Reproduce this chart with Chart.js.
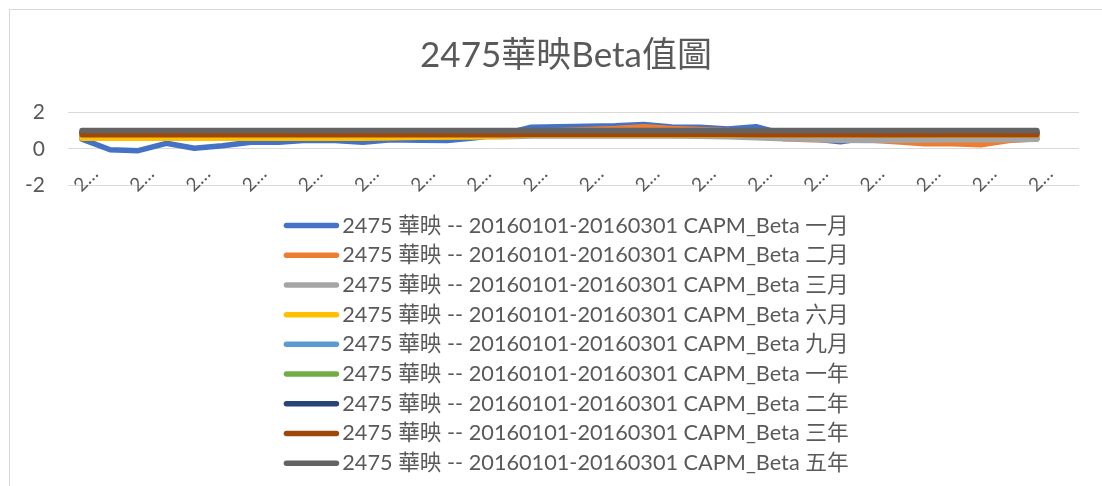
<!DOCTYPE html>
<html><head><meta charset="utf-8">
<script src="https://cdn.jsdelivr.net/npm/chart.js@4/dist/chart.umd.min.js"></script>
<style>
html,body{margin:0;padding:0;background:#fff;overflow:hidden;width:1102px;height:486px;}
#frame{position:absolute;left:9px;top:9px;width:1200px;height:600px;border-top:1px solid #d9d9d9;border-left:1px solid #d9d9d9;}
#wrap{position:absolute;left:10px;top:10px;width:1112px;height:474px;}
</style></head><body>
<div id="frame"></div>
<div id="wrap"><canvas id="c" width="1112" height="474"></canvas></div>
<script>
const chartTitle = '2475華映Beta值圖';
const categories = ['2…','','2…','','2…','','2…','','2…','','2…','','2…','','2…','','2…','','2…','','2…','','2…','','2…','','2…','','2…','','2…','','2…','','2…',''];
const seriesNames = [
  '2475 華映 -- 20160101-20160301 CAPM_Beta 一月',
  '2475 華映 -- 20160101-20160301 CAPM_Beta 二月',
  '2475 華映 -- 20160101-20160301 CAPM_Beta 三月',
  '2475 華映 -- 20160101-20160301 CAPM_Beta 六月',
  '2475 華映 -- 20160101-20160301 CAPM_Beta 九月',
  '2475 華映 -- 20160101-20160301 CAPM_Beta 一年',
  '2475 華映 -- 20160101-20160301 CAPM_Beta 二年',
  '2475 華映 -- 20160101-20160301 CAPM_Beta 三年',
  '2475 華映 -- 20160101-20160301 CAPM_Beta 五年'
];
const seriesColors = ['#4472C4','#ED7D31','#A5A5A5','#FFC000','#5B9BD5','#70AD47','#264478','#9E480E','#636363'];
const beta1M = [0.53,-0.05,-0.1,0.3,0.03,0.17,0.36,0.36,0.47,0.45,0.36,0.5,0.47,0.45,0.6,0.8,1.17,1.2,1.22,1.25,1.32,1.18,1.17,1.08,1.2,0.8,0.55,0.38,0.6,0.65,0.7,0.7,0.7,0.65,0.6,null];
const beta2M = [0.6,0.6,0.6,0.6,0.6,0.6,0.62,0.62,0.62,0.62,0.62,0.62,0.64,0.65,0.7,0.85,0.95,1.0,1.05,1.1,1.2,1.1,1.05,1.0,0.95,0.55,0.5,0.5,0.48,0.38,0.28,0.28,0.22,0.45,0.55,null];
const beta3M = [0.65,0.65,0.65,0.65,0.65,0.65,0.65,0.65,0.65,0.65,0.65,0.65,0.65,0.65,0.65,0.65,0.7,0.7,0.7,0.7,0.7,0.7,0.68,0.65,0.6,0.55,0.52,0.47,0.45,0.46,0.48,0.5,0.5,0.5,0.52,null];
const beta6M = [0.58,0.58,0.58,0.58,0.58,0.58,0.58,0.58,0.58,0.58,0.58,0.6,0.63,0.64,0.66,0.7,0.75,0.75,0.75,0.75,0.75,0.75,0.75,0.75,0.75,0.75,0.75,0.75,0.75,0.75,0.75,0.75,0.75,0.75,0.75,null];
const beta9M = [0.85,0.85,0.85,0.85,0.85,0.85,0.85,0.85,0.85,0.85,0.85,0.85,0.85,0.85,0.85,0.85,0.88,0.88,0.88,0.88,0.88,0.88,0.88,0.85,0.85,0.85,0.85,0.85,0.85,0.85,0.85,0.85,0.85,0.85,0.85,null];
const beta1Y = [0.88,0.88,0.88,0.88,0.88,0.88,0.88,0.88,0.88,0.88,0.88,0.88,0.88,0.88,0.88,0.88,0.9,0.9,0.9,0.9,0.9,0.9,0.9,0.88,0.88,0.88,0.88,0.88,0.88,0.88,0.88,0.88,0.88,0.88,0.88,null];
const beta2Y = [0.9,0.9,0.9,0.9,0.9,0.9,0.9,0.9,0.9,0.9,0.9,0.9,0.9,0.9,0.9,0.9,0.9,0.9,0.9,0.9,0.9,0.9,0.9,0.9,0.9,0.9,0.9,0.9,0.9,0.9,0.9,0.9,0.9,0.9,0.9,null];
const beta3Y = [0.77,0.77,0.77,0.77,0.77,0.77,0.77,0.77,0.77,0.77,0.77,0.77,0.77,0.77,0.77,0.77,0.78,0.78,0.78,0.78,0.78,0.78,0.78,0.78,0.77,0.77,0.77,0.77,0.77,0.77,0.77,0.77,0.77,0.77,0.77,null];
const beta5Y = [0.99,0.99,0.99,1.0,1.0,1.0,1.0,1.0,1.0,1.0,1.0,1.0,1.0,1.0,1.0,1.0,1.0,1.0,1.0,1.0,1.0,1.0,1.0,1.0,1.0,1.0,1.0,1.0,1.0,1.0,1.0,1.0,1.0,0.99,0.99,null];
const seriesData = [beta1M,beta2M,beta3M,beta6M,beta9M,beta1Y,beta2Y,beta3Y,beta5Y];
const yTicks = [-2, 0, 2];

const FONT = "Lato, 'Noto Sans CJK TC', sans-serif";
const TXT = '#595959';

const datasets = seriesData.map((d, i) => ({
  label: seriesNames[i],
  data: d,
  borderColor: seriesColors[i],
  backgroundColor: seriesColors[i],
  borderWidth: 5.5,
  pointRadius: 0,
  pointHoverRadius: 0,
  tension: 0,
  borderCapStyle: 'round',
  borderJoinStyle: 'round',
  order: seriesData.length - i
}));

// draws each legend swatch as a short thick line with round caps
const legendLines = {
  id: 'legendLines',
  afterDraw(chart) {
    const lg = chart.legend;
    if (!lg || !lg.legendHitBoxes) return;
    const ctx = chart.ctx;
    ctx.save();
    ctx.lineCap = 'round';
    ctx.lineWidth = 5.5;
    lg.legendItems.forEach((it, i) => {
      const hb = lg.legendHitBoxes[i];
      if (!hb) return;
      const y = hb.top + hb.height / 2;
      ctx.strokeStyle = seriesColors[it.datasetIndex];
      ctx.beginPath();
      ctx.moveTo(hb.left + 3, y);
      ctx.lineTo(hb.left + 56 - 3, y);
      ctx.stroke();
    });
    ctx.restore();
  }
};

new Chart(document.getElementById('c'), {
  type: 'line',
  data: { labels: categories, datasets },
  plugins: [legendLines],
  options: {
    responsive: false,
    animation: false,
    devicePixelRatio: 1,
    layout: { padding: 0 },
    plugins: {
      title: {
        display: true, text: chartTitle, color: TXT,
        font: { family: FONT, size: 35, weight: 'normal' },
        padding: { top: 25, bottom: 35 }
      },
      legend: {
        position: 'bottom',
        maxHeight: 400,
        labels: {
          color: TXT,
          font: { family: FONT, size: 21.7 },
          boxWidth: 48, boxHeight: 5, padding: 8,
          sort: (a, b) => a.datasetIndex - b.datasetIndex,
          generateLabels(chart) {
            const items = Chart.defaults.plugins.legend.labels.generateLabels(chart);
            items.forEach(it => { it.fillStyle = 'rgba(0,0,0,0)'; it.strokeStyle = 'rgba(0,0,0,0)'; it.lineWidth = 0; });
            return items;
          }
        }
      },
      tooltip: { enabled: false }
    },
    scales: {
      x: {
        offset: true,
        grid: { display: false, drawTicks: false },
        border: { display: false },
        ticks: {
          autoSkip: false, maxRotation: 45, minRotation: 45,
          mirror: true, padding: 7, labelOffset: 29, color: TXT,
          font: { family: FONT, size: 19 }
        },
        afterFit(s) { s.height = 21; s.paddingLeft = 0; s.paddingRight = 43; }
      },
      y: {
        min: -2, max: 2,
        afterBuildTicks(s) { s.ticks = yTicks.map(v => ({ value: v })); },
        grid: { color: '#d9d9d9', lineWidth: 1, drawTicks: false },
        border: { display: false },
        ticks: { padding: 23, color: TXT, font: { family: FONT, size: 21 } },
        afterFit(s) { s.width = 58; }
      }
    }
  }
});
</script>
</body></html>
